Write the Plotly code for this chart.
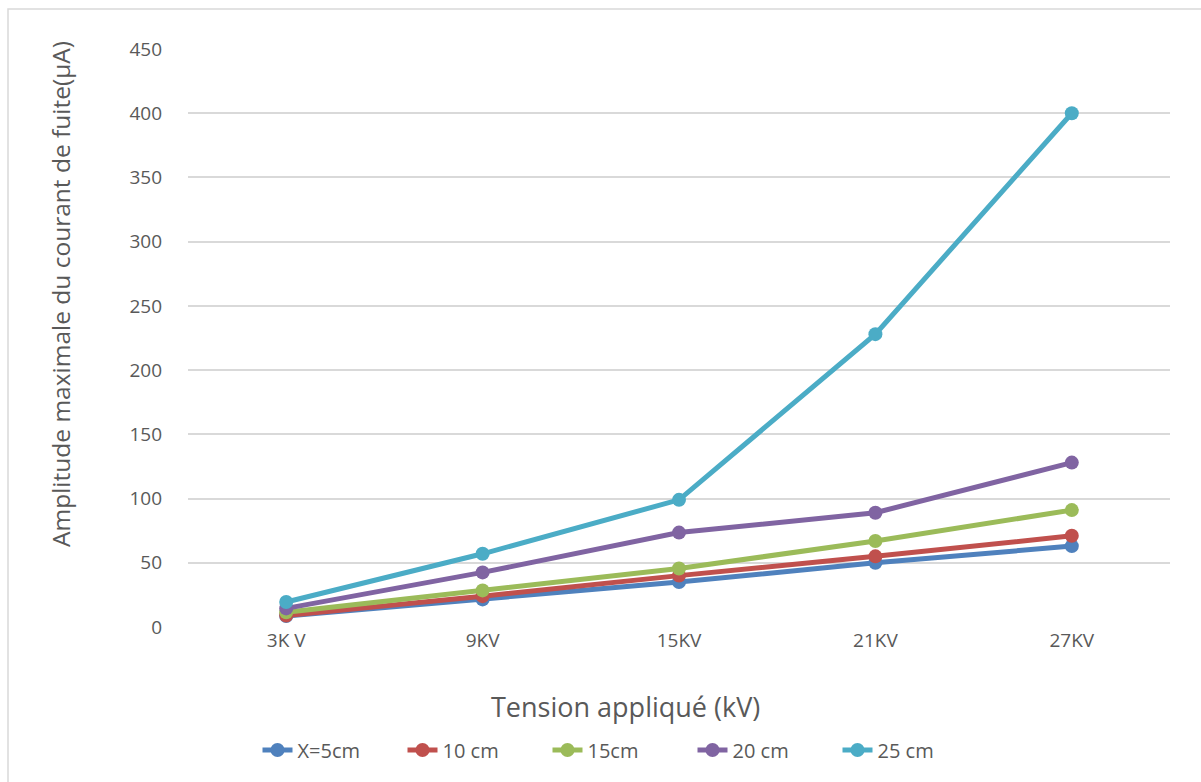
import plotly.graph_objects as go

categories = ["3K V", "9KV", "15KV", "21KV", "27KV"]

series_names = ["X=5cm", "10 cm", "15cm", "20 cm", "25 cm"]
x5cm = [8.5, 21.5, 35, 50, 63]
x10cm = [9, 24, 40, 55, 71]
x15cm = [11.5, 28.5, 45.5, 67, 91]
x20cm = [14.5, 42.5, 73.5, 89, 128]
x25cm = [19.5, 57, 99, 228, 400]
series_values = [x5cm, x10cm, x15cm, x20cm, x25cm]
colors = ["#4F81BD", "#C0504D", "#9BBB59", "#8064A2", "#4BACC6"]

y_ticks = [0, 50, 100, 150, 200, 250, 300, 350, 400, 450]

FONT = "Open Sans"
TXT = "#595959"

fig = go.Figure()
for name, vals, col in zip(series_names, series_values, colors):
    fig.add_trace(go.Scatter(
        x=categories, y=vals, name=name, mode="lines+markers",
        line=dict(color=col, width=5),
        marker=dict(color=col, size=14),
    ))

W, H = 1201, 782
L, R, T, B = 188, 31, 49, 155
pw, ph = W - L - R, H - T - B

def px_x(px):
    return (px - L) / pw

def px_y(py):
    return (H - B - py) / ph

fig.update_layout(
    width=W, height=H,
    margin=dict(l=L, r=R, t=T, b=B),
    paper_bgcolor="white", plot_bgcolor="white",
    font=dict(family=FONT, color=TXT, size=18),
    showlegend=True,
    legend=dict(
        orientation="h", x=px_x(620), y=px_y(750),
        xanchor="center", yanchor="middle",
        font=dict(size=20, color=TXT),
        entrywidth=100, entrywidthmode="pixels",
        tracegroupgap=0,
    ),
    xaxis=dict(
        type="category", range=[-0.5, 4.5],
        showgrid=False, showline=False, zeroline=False,
        ticks="", tickfont=dict(size=19, color=TXT),
    ),
    yaxis=dict(
        range=[0, 450], tickvals=y_ticks,
        showgrid=True, gridcolor="#D9D9D9", gridwidth=1.5,
        zeroline=False, showline=False, ticks="",
        tickfont=dict(size=19, color=TXT), ticklabelstandoff=25,
    ),
    annotations=[
        dict(text="Tension appliqué (kV)", xref="paper", yref="paper",
             x=px_x(625), y=px_y(706), xanchor="center", yanchor="middle",
             showarrow=False, font=dict(size=27, color=TXT)),
        dict(text="Amplitude maximale du courant de fuite(μA)", xref="paper", yref="paper",
             x=px_x(60), y=px_y(294), xanchor="center", yanchor="middle",
             textangle=-90, showarrow=False, font=dict(size=24.5, color=TXT)),
    ],
    shapes=[
        dict(type="rect", xref="paper", yref="paper",
             x0=px_x(8), x1=px_x(1230), y0=px_y(820), y1=px_y(9),
             line=dict(color="#D9D9D9", width=1.5), layer="below"),
    ],
)

fig.write_html("out.html")
